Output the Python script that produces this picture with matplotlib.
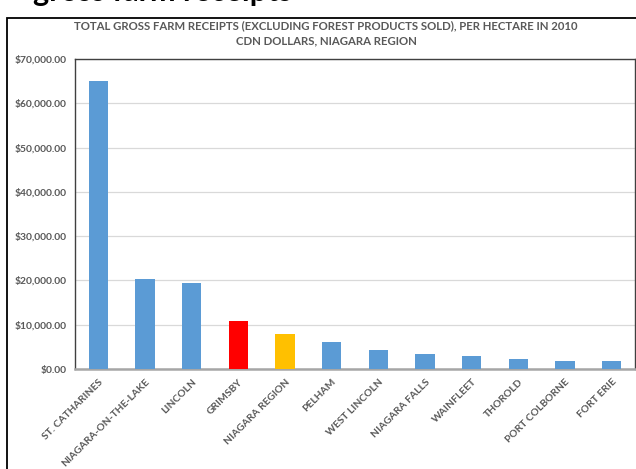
import matplotlib
matplotlib.use('Agg')
import matplotlib.pyplot as plt
from matplotlib.ticker import FuncFormatter
from matplotlib.patches import Rectangle

# values (CDN $ per hectare, 2010)
places = ['ST. CATHARINES', 'NIAGARA-ON-THE-LAKE', 'LINCOLN', 'GRIMSBY',
          'NIAGARA REGION', 'PELHAM', 'WEST LINCOLN', 'NIAGARA FALLS',
          'WAINFLEET', 'THOROLD', 'PORT COLBORNE', 'FORT ERIE']
receipts = [65000, 20300, 19500, 10900, 8000, 6100, 4400, 3400,
            2900, 2200, 1900, 1700]
bar_colors = ['#5b9bd5'] * 3 + ['#ff0000', '#ffc000'] + ['#5b9bd5'] * 7
y_ticks = [0, 10000, 20000, 30000, 40000, 50000, 60000, 70000]

plt.rcParams['font.family'] = ['Lato', 'DejaVu Sans']
plt.rcParams['savefig.bbox'] = 'standard'
txt = '#595959'

fig = plt.figure(figsize=(6.36, 4.69), dpi=100)
ax = fig.add_axes([75 / 636, 1 - 369 / 469, 560 / 636, 310 / 469])

ax.bar(range(len(places)), receipts, width=0.41, color=bar_colors, zorder=3)
ax.set_xlim(-0.5, len(places) - 0.5)
ax.set_ylim(0, 70000)
ax.set_yticks(y_ticks)
ax.yaxis.set_major_formatter(FuncFormatter(lambda v, p: f'${v:,.2f}'))
ax.set_xticks(range(len(places)))
ax.set_xticklabels(places, rotation=45, ha='right', rotation_mode='anchor')
ax.tick_params(axis='both', length=0, labelsize=7.4, labelcolor=txt, pad=6)
for lab in ax.get_yticklabels() + ax.get_xticklabels():
    lab.set_fontweight('bold')
ax.grid(axis='y', color='#d9d9d9', linewidth=0.9, zorder=0)

for side in ['left', 'top', 'right']:
    ax.spines[side].set_color('#404040')
    ax.spines[side].set_linewidth(1.0)
ax.spines['bottom'].set_color('#a6a6a6')
ax.spines['bottom'].set_linewidth(1.8)

fig.text(326 / 636, 1 - 20 / 469,
         'TOTAL GROSS FARM RECEIPTS (EXCLUDING FOREST PRODUCTS SOLD), PER HECTARE IN 2010\nCDN DOLLARS, NIAGARA REGION',
         ha='center', va='top', fontsize=8.2, fontweight='bold', color=txt,
         linespacing=1.45)

# outer frame of the chart object
fig.patches.append(Rectangle((7 / 636, -0.1), 1.2, 1 - 18 / 469 + 0.1,
                             transform=fig.transFigure, fill=False,
                             edgecolor='#000000', linewidth=1.3))
# page heading above the chart, only its lowest pixels show at the top edge
fig.text(33 / 636, 1 - 1 / 469, 'gross farm receipts', ha='left',
         va='baseline', fontsize=22, fontweight='bold', color='black')

fig.savefig('out.png', dpi=100)
